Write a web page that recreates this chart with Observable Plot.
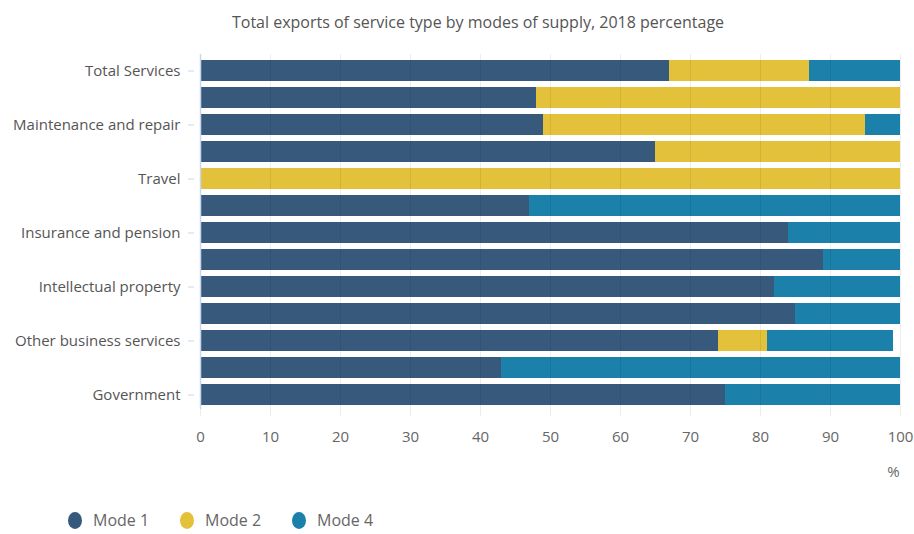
<!DOCTYPE html>
<html>
<head>
<meta charset="utf-8">
<script src="https://cdn.jsdelivr.net/npm/d3@7"></script>
<script src="https://cdn.jsdelivr.net/npm/@observablehq/plot@0.6"></script>
<style>
  html, body { margin: 0; padding: 0; background: #fff; }
  body { width: 914px; height: 534px; overflow: hidden; font-family: "Open Sans", sans-serif; }
  #title { height: 44px; line-height: 44px; text-align: center; padding-left: 42px; font-size: 16px; color: #555; box-sizing: border-box; width: 914px; }
  #legend { display: flex; margin-top: 14px; height: 24px; align-items: center; padding-left: 68px; }
  .item { display: flex; align-items: center; width: 112px; font-size: 16px; color: #666; }
  .swatch { width: 14px; height: 17px; border-radius: 50%; margin-right: 11px; }
</style>
</head>
<body>
<div id="title"></div>
<div id="chart"></div>
<div id="legend"></div>
<script>
const titleText = "Total exports of service type by modes of supply, 2018 percentage";
const categories = [
  "Total Services",
  "Manufacturing services",
  "Maintenance and repair",
  "Transport",
  "Travel",
  "Construction",
  "Insurance and pension",
  "Financial",
  "Intellectual property",
  "Telecommunications, computer and information",
  "Other business services",
  "Personal, cultural and recreational",
  "Government"
];
const labeledCategories = ["Total Services", "Maintenance and repair", "Travel", "Insurance and pension", "Intellectual property", "Other business services", "Government"];
const modes = ["Mode 1", "Mode 2", "Mode 4"];
const modeColors = ["#375a7c", "#e4c13a", "#1b81ab"];
const mode1 = [67, 48, 49, 65, 0, 47, 84, 89, 82, 85, 74, 43, 75];
const mode2 = [20, 52, 46, 35, 100, 0, 0, 0, 0, 0, 7, 0, 0];
const mode4 = [13, 0, 5, 0, 0, 53, 16, 11, 18, 15, 18, 57, 25];
const xTicks = [0, 10, 20, 30, 40, 50, 60, 70, 80, 90, 100];
const unitLabel = ["%"];

document.getElementById("title").textContent = titleText;

const series = [mode1, mode2, mode4];
const rows = [];
categories.forEach((c, i) => {
  modes.forEach((m, j) => {
    rows.push({category: c, mode: m, value: series[j][i]});
  });
});

const chart = Plot.plot({
  width: 914,
  height: 450,
  marginLeft: 200,
  marginRight: 14,
  marginTop: 7,
  marginBottom: 80,
  style: {fontFamily: "Open Sans, sans-serif", fontSize: "15px", color: "#555", background: "#fff"},
  x: {domain: [0, 100]},
  y: {domain: categories, padding: 0.22},
  color: {domain: modes, range: modeColors},
  marks: [
    Plot.barX(rows, Plot.stackX({y: "category", x: "value", fill: "mode", order: null})),
    Plot.gridX(xTicks, {stroke: "#000", strokeOpacity: 0.07, insetTop: 3, insetBottom: -2}),
    Plot.ruleX([0], {stroke: "#c9d5ee", strokeWidth: 1.5, insetTop: 3, insetBottom: 5}),
    Plot.axisY({ticks: labeledCategories, tickSize: 6, dx: -6, tickPadding: 8, stroke: "#c9d5ee", label: null, fill: "#555", fontSize: 15}),
    Plot.axisX({ticks: xTicks, tickSize: 0, tickPadding: 17, label: null, fill: "#666", fontSize: 15}),
    Plot.text(unitLabel, {frameAnchor: "bottom-right", dy: 58, dx: -7, text: d => d, fill: "#666", fontSize: 15, textAnchor: "middle", lineAnchor: "middle"})
  ]
});
document.getElementById("chart").appendChild(chart);

const legend = document.getElementById("legend");
modes.forEach((m, i) => {
  const item = document.createElement("div");
  item.className = "item";
  const sw = document.createElement("span");
  sw.className = "swatch";
  sw.style.background = modeColors[i];
  const label = document.createElement("span");
  label.textContent = m;
  item.appendChild(sw);
  item.appendChild(label);
  legend.appendChild(item);
});
</script>
</body>
</html>
